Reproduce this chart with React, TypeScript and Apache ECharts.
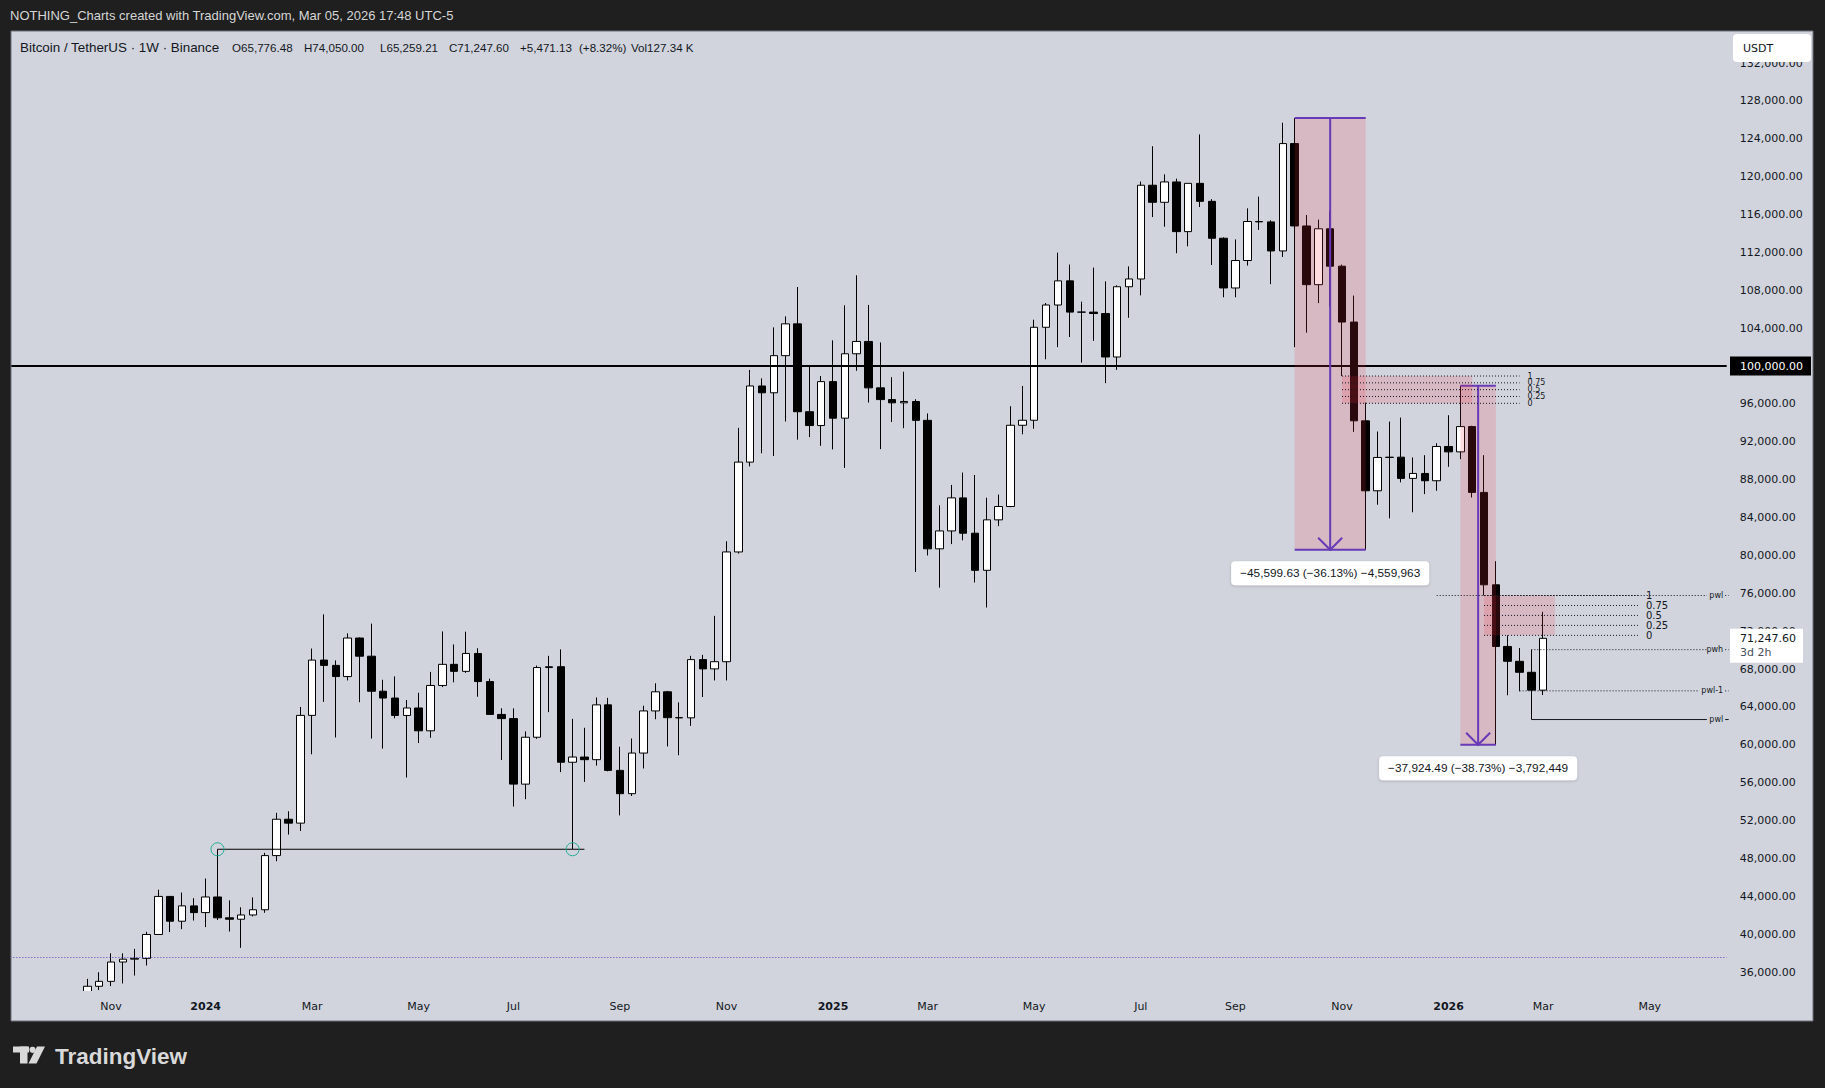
import React, { useEffect, useRef } from 'react';
import * as echarts from 'echarts';

// ---------- categories (weekly bars, Monday open) ----------
const START_WEEK = Date.UTC(2023, 8, 11);
const WEEK_COUNT = 145;
const dates: string[] = Array.from({ length: WEEK_COUNT }, (_, i) =>
  new Date(START_WEEK + i * 604800000).toISOString().slice(0, 10)
);
const firstCandle = '2023-10-23';
const monthNames = ['Jan', 'Feb', 'Mar', 'Apr', 'May', 'Jun', 'Jul', 'Aug', 'Sep', 'Oct', 'Nov', 'Dec'];

// ---------- BTCUSDT weekly OHLC (from 2023-10-23 to 2026-03-02) ----------
const opens = [
  29990, 34500, 35020, 37060, 37360, 37450, 39970, 43990, 41370, 42990,
  42280, 43930, 41730, 41580, 42030, 42580, 48300, 52140, 51730, 63110,
  68950, 68390, 67210, 71280, 69360, 65660, 64940, 63100, 63890, 61480,
  66270, 68500, 67760, 69650, 66680, 63210, 62770, 55850, 60800, 68160,
  68250, 58160, 58710, 58430, 64220, 57300, 54840, 59130, 63580, 65600,
  62870, 62850, 69000, 68020, 68780, 80370, 89860, 97900, 97180, 101100,
  104460, 95180, 93720, 98360, 94500, 101300, 102600, 97700, 96460, 96120,
  96260, 94270, 80700, 82590, 86080, 82350, 78430, 83760, 85170, 93750,
  94280, 104100, 106450, 109000, 105700, 105700, 105550, 100960, 108380, 109200,
  119100, 117300, 119450, 114200, 119300, 117400, 113500, 108250, 111150, 115270,
  115230, 112160, 123500, 114800, 108600, 114500, 110550, 104650, 94220, 86830,
  90350, 90380, 88140, 88660, 87890, 91510, 90940, 93610, 86660, 76900,
  70390, 68820, 67660, 65776.48,
];
const highs = [
  35280, 35980, 37980, 37980, 38450, 40250, 44700, 44000, 44400, 43800,
  45880, 48970, 43570, 42840, 43880, 48590, 52820, 52985, 64000, 70170,
  73780, 68920, 71770, 71340, 72800, 66870, 67230, 64730, 65500, 67700,
  71980, 70600, 71950, 70200, 66990, 63860, 63850, 61420, 68370, 69400,
  70080, 62745, 61800, 65000, 64960, 59800, 60670, 64130, 66500, 65700,
  64480, 69400, 69500, 73620, 81500, 93480, 99590, 98700, 104090, 105250,
  108350, 99960, 98950, 102720, 106420, 109590, 106460, 102500, 98830, 99410,
  96500, 95000, 85300, 87450, 88750, 88500, 86100, 86430, 95760, 97900,
  104900, 106660, 111980, 110720, 106800, 110400, 108950, 108530, 110530, 119490,
  123220, 120250, 119800, 119310, 124470, 117630, 113600, 113380, 116660, 117900,
  115400, 125700, 126200, 115960, 115470, 116400, 110720, 107450, 96150, 93090,
  94140, 94560, 90350, 90590, 91860, 94810, 97924.49, 93700, 90590, 79390,
  71560, 70230, 70050, 74050,
];
const lows = [
  29880, 34100, 34520, 34800, 35630, 36690, 39970, 40220, 40530, 41440,
  40750, 41500, 40280, 38560, 41880, 42260, 47700, 50520, 50900, 59000,
  64530, 60775, 66800, 64500, 60660, 59600, 62800, 56550, 60190, 60750,
  66100, 66600, 67600, 65080, 63200, 58400, 53485, 54260, 60630, 63450,
  57120, 49000, 56080, 57800, 57200, 52550, 54600, 57500, 62700, 59830,
  58900, 62000, 65050, 66800, 66800, 80200, 89400, 90790, 90500, 94150,
  92230, 92500, 91580, 91200, 89250, 99500, 96150, 91230, 94090, 93440,
  78260, 80000, 76600, 81200, 81600, 77150, 74500, 83100, 85100, 92800,
  93380, 100720, 102000, 103070, 100370, 102660, 98200, 99600, 105100, 107470,
  115740, 114720, 111920, 112650, 116800, 110680, 107270, 107270, 110620, 114380,
  108650, 111530, 102000, 103530, 106650, 106300, 98950, 93050, 80600, 85360,
  83920, 87720, 84560, 86480, 86830, 89360, 90170, 86120, 75770, 60000,
  65230, 65650, 62670, 65259.21,
];
const closes = [
  34500, 35020, 37060, 37360, 37450, 39970, 43990, 41370, 42990, 42280,
  43930, 41730, 41580, 42030, 42580, 48300, 52140, 51730, 63110, 68950,
  68390, 67210, 71280, 69360, 65660, 64940, 63100, 63890, 61480, 66270,
  68500, 67760, 69650, 66680, 63210, 62770, 55850, 60800, 68160, 68250,
  58160, 58710, 58430, 64220, 57300, 54840, 59130, 63580, 65600, 62870,
  62850, 69000, 68020, 68780, 80370, 89860, 97900, 97180, 101100, 104460,
  95180, 93720, 98360, 94500, 101300, 102600, 97700, 96460, 96120, 96260,
  94270, 80700, 82590, 86080, 82350, 78430, 83760, 85170, 93750, 94280,
  104100, 106450, 109000, 105700, 105700, 105550, 100960, 108380, 109200, 119100,
  117300, 119450, 114200, 119300, 117400, 113500, 108250, 111150, 115270, 115230,
  112160, 123500, 114800, 108600, 114500, 110550, 104650, 94220, 86830, 90350,
  90380, 88140, 88660, 87890, 91510, 90940, 93610, 86660, 76900, 70390,
  68820, 67660, 65776.48, 71247.6,
];

// ---------- price scale ticks ----------
const priceTicks = [
  36000, 40000, 44000, 48000, 52000, 56000, 60000, 64000, 68000, 72000, 76000, 80000, 84000,
  88000, 92000, 96000, 100000, 104000, 108000, 112000, 116000, 120000, 124000, 128000, 132000,
];

// ---------- drawings ----------
const measureFrom = ['2025-10-06', '2026-01-12'];
const measureTo = ['2025-11-17', '2026-02-02'];
const measureTop = [126200, 97924.49];
const measureBottom = [80600.37, 60000];
const measureLabels = [
  '\u221245,599.63 (\u221236.13%) \u22124,559,963',
  '\u221237,924.49 (\u221238.73%) \u22123,792,449',
];

const fibLevels = [1, 0.75, 0.5, 0.25, 0];
const fibFrom = ['2025-11-03', '2026-01-26'];
const fibTo = ['2026-02-16', '2026-04-27'];
const fibBoxTo = ['2026-01-19', '2026-03-09'];
const fibLow = [96070, 71560];
const fibHigh = [98950, 75770];
const fibFont = [8, 10];

const rayFrom = ['2025-12-29', '2026-02-23', '2026-02-16', '2026-02-23'];
const rayPrice = [75770, 70050, 65700, 62670];
const rayLabels = ['pwl', 'pwh', 'pwl-1', 'pwl'];
const rayDotted = [1, 1, 1, 0];

const levelFrom = '2024-01-08';
const levelTo = '2024-08-05';
const levelPrice = 48970;

const roundLevel = 100000;
const dottedLevel = 37550;
const lastPrice = 71247.6;
const countdown = '3d 2h';

const headerText = 'NOTHING_Charts created with TradingView.com, Mar 05, 2026 17:48 UTC-5';
const legendName = 'Bitcoin / TetherUS \u00b7 1W \u00b7 Binance';
const legendValues = [
  'O65,776.48',
  'H74,050.00',
  'L65,259.21',
  'C71,247.60',
  '+5,471.13',
  '(+8.32%)',
  'Vol127.34 K',
];
const legendX = [232, 304, 380, 449, 520, 579, 631];

// ---------- helpers ----------
const idx = (d: string) => dates.indexOf(d);
const fmtPrice = (v: number) =>
  v.toLocaleString('en-US', { minimumFractionDigits: 2, maximumFractionDigits: 2 });

const INK = '#131722';
const PURPLE = '#673ab7';
const PINK = 'rgba(242,54,69,0.17)';
const PANE = '#d1d4dc';
const DARK = '#1f1f1f';
const AXIS_FONT = '"DejaVu Sans", sans-serif';
const UI_FONT = '"Liberation Sans", Arial, sans-serif';

const firstIdx = idx(firstCandle);
const candleData = dates.map((_, i) => {
  const k = i - firstIdx;
  if (k < 0 || k >= opens.length) return ['-', '-', '-', '-'];
  return [opens[k], closes[k], lows[k], highs[k]];
});
const lastIdx = firstIdx + opens.length - 1;

const labelIdx = new Set<number>();
for (let i = 1; i < dates.length; i++) {
  const m = new Date(dates[i]).getUTCMonth();
  const pm = new Date(dates[i - 1]).getUTCMonth();
  if (m !== pm && m % 2 === 0) labelIdx.add(i);
}

function buildOption(): any {
  const graphics: any[] = [
    {
      type: 'rect', z: -10, silent: true,
      shape: { x: 11, y: 31, width: 1802, height: 990 },
      style: { fill: PANE },
    },
    // masks below the plot area (candles overflowing the price range)
    { type: 'rect', z: 10, silent: true, shape: { x: 11, y: 991, width: 1802, height: 30 }, style: { fill: PANE } },
    { type: 'rect', z: 10, silent: true, shape: { x: 0, y: 1021, width: 1825, height: 67 }, style: { fill: DARK } },
    {
      type: 'rect', z: 11, silent: true,
      shape: { x: 11, y: 31, width: 1802, height: 990 },
      style: { fill: 'none', stroke: '#6f727c', lineWidth: 1 },
    },
    {
      type: 'text', z: 100, silent: true, x: 10, y: 15,
      style: { text: headerText, fill: '#d6d6d6', fontSize: 13, fontFamily: UI_FONT, verticalAlign: 'middle' },
    },
    {
      type: 'text', z: 100, silent: true, x: 20, y: 47,
      style: { text: legendName, fill: INK, fontSize: 13.4, fontFamily: UI_FONT, verticalAlign: 'middle' },
    },
    ...legendValues.map((t, i) => ({
      type: 'text', z: 100, silent: true, x: legendX[i], y: 47,
      style: { text: t, fill: INK, fontSize: 11.6, fontFamily: UI_FONT, verticalAlign: 'middle' },
    })),
    {
      type: 'rect', z: 100, silent: true,
      shape: { x: 1733, y: 34, width: 78, height: 28, r: 4 },
      style: { fill: '#ffffff' },
    },
    {
      type: 'text', z: 101, silent: true, x: 1743, y: 48,
      style: { text: 'USDT', fill: INK, fontSize: 11, fontFamily: AXIS_FONT, verticalAlign: 'middle' },
    },
    // TradingView logo
    { type: 'rect', z: 100, silent: true, shape: { x: 13, y: 1046.5, width: 16, height: 6 }, style: { fill: '#d9d9d9' } },
    { type: 'rect', z: 100, silent: true, shape: { x: 20, y: 1046.5, width: 7.5, height: 17 }, style: { fill: '#d9d9d9' } },
    { type: 'circle', z: 100, silent: true, shape: { cx: 32.5, cy: 1049.8, r: 3.1 }, style: { fill: '#d9d9d9' } },
    {
      type: 'polygon', z: 100, silent: true,
      shape: { points: [[37, 1046.5], [45, 1046.5], [36.5, 1063.5], [28.5, 1063.5]] },
      style: { fill: '#d9d9d9' },
    },
    {
      type: 'text', z: 100, silent: true, x: 55, y: 1056,
      style: { text: 'TradingView', fill: '#d9d9d9', fontSize: 22.5, fontWeight: 'bold', fontFamily: UI_FONT, verticalAlign: 'middle' },
    },
  ];

  const measureSeries = {
    type: 'custom', name: 'measure', z: 5, silent: true, clip: false,
    encode: { x: 0, y: 1 },
    data: measureFrom.map((f, i) => [idx(f), measureTop[i], idx(measureTo[i]), measureBottom[i]]),
    renderItem: (params: any, api: any) => {
      const a = api.coord([api.value(0), api.value(1)]);
      const b = api.coord([api.value(2), api.value(3)]);
      const left = a[0], right = b[0], top = a[1], bottom = b[1];
      const mid = (left + right) / 2;
      const label = measureLabels[params.dataIndex];
      return {
        type: 'group',
        children: [
          { type: 'rect', shape: { x: left, y: top, width: right - left, height: bottom - top }, style: { fill: PINK } },
          { type: 'line', shape: { x1: left, y1: top, x2: right, y2: top }, style: { stroke: PURPLE, lineWidth: 2 } },
          { type: 'line', shape: { x1: left, y1: bottom, x2: right, y2: bottom }, style: { stroke: PURPLE, lineWidth: 2 } },
          { type: 'line', shape: { x1: mid, y1: top, x2: mid, y2: bottom }, style: { stroke: PURPLE, lineWidth: 2 } },
          {
            type: 'polyline',
            shape: { points: [[mid - 12, bottom - 12], [mid, bottom], [mid + 12, bottom - 12]] },
            style: { stroke: PURPLE, lineWidth: 2, fill: 'none' },
          },
          {
            type: 'rect', shape: { x: mid - 99, y: bottom + 11.5, width: 198, height: 24, r: 4 },
            style: { fill: '#ffffff', shadowBlur: 3, shadowColor: 'rgba(0,0,0,0.18)', shadowOffsetY: 1 },
          },
          {
            type: 'text', x: mid, y: bottom + 23.5,
            style: { text: label, fill: INK, fontSize: 11.8, fontFamily: UI_FONT, align: 'center', verticalAlign: 'middle' },
          },
        ],
      };
    },
  };

  const fibSeries = {
    type: 'custom', name: 'fib', z: 6, silent: true, clip: false,
    encode: { x: 0, y: 1 },
    data: fibFrom.map((f, i) => [idx(f), fibLow[i], idx(fibTo[i]), fibHigh[i], idx(fibBoxTo[i])]),
    renderItem: (params: any, api: any) => {
      const i0 = api.value(0), lo = api.value(1), i1 = api.value(2), hi = api.value(3), ib = api.value(4);
      const fs = fibFont[params.dataIndex];
      const boxA = api.coord([i0, hi]);
      const boxB = api.coord([ib, lo]);
      const children: any[] = [
        { type: 'rect', shape: { x: boxA[0], y: boxA[1], width: boxB[0] - boxA[0], height: boxB[1] - boxA[1] }, style: { fill: PINK } },
      ];
      fibLevels.forEach((lv) => {
        const p = lo + lv * (hi - lo);
        const s = api.coord([i0, p]);
        const e = api.coord([i1, p]);
        children.push({
          type: 'line', shape: { x1: s[0], y1: s[1], x2: e[0], y2: e[1] },
          style: { stroke: INK, lineWidth: 1, lineDash: [1, 2] },
        });
        children.push({
          type: 'text', x: e[0] + 8, y: e[1],
          style: { text: String(lv), fill: INK, fontSize: fs, fontFamily: AXIS_FONT, verticalAlign: 'middle' },
        });
      });
      return { type: 'group', children };
    },
  };

  const raySeries = {
    type: 'custom', name: 'rays', z: 6, silent: true, clip: false,
    encode: { x: 0, y: 1 },
    data: rayFrom.map((f, i) => [idx(f), rayPrice[i], rayDotted[i]]),
    renderItem: (params: any, api: any) => {
      const s = api.coord([api.value(0), api.value(1)]);
      const dotted = api.value(2) === 1;
      const cs = params.coordSys;
      const right = cs.x + cs.width;
      const label = rayLabels[params.dataIndex];
      const labelRight = right - 3.5;
      const lineEnd = labelRight - label.length * 4.6 - 2.5;
      const st = { stroke: INK, lineWidth: 1, lineDash: dotted ? [1, 2] : null };
      return {
        type: 'group',
        children: [
          { type: 'line', shape: { x1: s[0], y1: s[1], x2: lineEnd, y2: s[1] }, style: st },
          { type: 'line', shape: { x1: right - 1.5, y1: s[1], x2: right + 2, y2: s[1] }, style: st },
          {
            type: 'text', x: labelRight, y: s[1] - 0.5,
            style: { text: label, fill: INK, fontSize: 8, fontFamily: AXIS_FONT, align: 'right', verticalAlign: 'middle' },
          },
        ],
      };
    },
  };

  const levelSeries = {
    type: 'custom', name: 'level', z: 6, silent: true, clip: false,
    encode: { x: 0, y: 1 },
    data: [[idx(levelFrom), levelPrice, idx(levelTo)]],
    renderItem: (params: any, api: any) => {
      const a = api.coord([api.value(0), api.value(1)]);
      const b = api.coord([api.value(2), api.value(1)]);
      const bw = api.size([1, 0])[0];
      return {
        type: 'group',
        children: [
          { type: 'line', shape: { x1: a[0], y1: a[1], x2: b[0] + bw, y2: b[1] }, style: { stroke: '#000', lineWidth: 1 } },
          { type: 'circle', shape: { cx: a[0], cy: a[1], r: 6.5 }, style: { fill: 'none', stroke: '#22ab94', lineWidth: 1 } },
          { type: 'circle', shape: { cx: b[0], cy: b[1], r: 6.5 }, style: { fill: 'none', stroke: '#22ab94', lineWidth: 1 } },
        ],
      };
    },
  };

  const tagSeries = {
    type: 'custom', name: 'tags', z: 20, silent: true, clip: false,
    encode: { x: 0, y: 1 },
    data: [[lastIdx, roundLevel], [lastIdx, lastPrice]],
    renderItem: (params: any, api: any) => {
      const p = api.coord([api.value(0), api.value(1)]);
      const cs = params.coordSys;
      const x0 = cs.x + cs.width + 3.3;
      const y = p[1];
      if (params.dataIndex === 0) {
        return {
          type: 'group',
          children: [
            { type: 'rect', shape: { x: x0, y: y - 9.5, width: 81, height: 19 }, style: { fill: '#000000' } },
            {
              type: 'text', x: x0 + 10, y,
              style: { text: fmtPrice(api.value(1)), fill: '#ffffff', fontSize: 11, fontFamily: AXIS_FONT, verticalAlign: 'middle' },
            },
          ],
        };
      }
      return {
        type: 'group',
        children: [
          { type: 'rect', shape: { x: x0, y: y - 9.5, width: 73, height: 34 }, style: { fill: '#ffffff' } },
          {
            type: 'text', x: x0 + 10, y,
            style: { text: fmtPrice(api.value(1)), fill: INK, fontSize: 11, fontFamily: AXIS_FONT, verticalAlign: 'middle' },
          },
          {
            type: 'text', x: x0 + 10, y: y + 14.5,
            style: { text: countdown, fill: '#4a4e5a', fontSize: 11, fontFamily: AXIS_FONT, verticalAlign: 'middle' },
          },
        ],
      };
    },
  };

  return {
    animation: false,
    backgroundColor: DARK,
    grid: { left: 10.36, right: 98.3, top: 31, bottom: 97, containLabel: false },
    xAxis: {
      type: 'category',
      z: 50,
      data: dates,
      boundaryGap: true,
      axisLine: { show: false },
      axisTick: { show: false },
      splitLine: { show: false },
      axisLabel: {
        interval: (i: number) => labelIdx.has(i),
        margin: 10,
        color: INK,
        fontSize: 11,
        fontFamily: AXIS_FONT,
        formatter: (v: string) => {
          const d = new Date(v);
          const m = d.getUTCMonth();
          return m === 0 ? `{y|${d.getUTCFullYear()}}` : monthNames[m];
        },
        rich: { y: { fontWeight: 'bold', fontSize: 11, fontFamily: AXIS_FONT, color: INK } },
      },
    },
    yAxis: {
      type: 'value',
      position: 'right',
      min: 34000,
      max: 135390,
      scale: true,
      axisLine: { show: false },
      axisTick: { show: false, customValues: priceTicks },
      splitLine: { show: false },
      axisLabel: {
        customValues: priceTicks,
        margin: 13,
        color: INK,
        fontSize: 11,
        fontFamily: AXIS_FONT,
        formatter: (v: number) => fmtPrice(v),
      },
    },
    graphic: graphics,
    series: [
      {
        type: 'candlestick',
        name: 'BTCUSDT',
        z: 2,
        data: candleData,
        barWidth: 8,
        clip: true,
        silent: true,
        itemStyle: {
          color: '#ffffff',
          color0: '#000000',
          borderColor: '#000000',
          borderColor0: '#000000',
          borderColorDoji: '#000000',
          borderWidth: 1,
        },
        markLine: {
          silent: true,
          symbol: ['none', 'none'],
          label: { show: false },
          data: [
            { yAxis: roundLevel, lineStyle: { color: '#000000', width: 2, type: 'solid' } },
            { yAxis: dottedLevel, lineStyle: { color: '#5b3cc4', width: 1, type: [1, 2] } },
          ],
        },
      },
      measureSeries,
      fibSeries,
      raySeries,
      levelSeries,
      tagSeries,
    ],
  };
}

export default function App() {
  const ref = useRef<HTMLDivElement>(null);
  useEffect(() => {
    document.body.style.margin = '0';
    const chart = echarts.init(ref.current as HTMLDivElement, null, { renderer: 'svg', width: 1825, height: 1088 });
    chart.setOption(buildOption());
    return () => chart.dispose();
  }, []);
  return <div ref={ref} style={{ width: 1825, height: 1088 }} />;
}
